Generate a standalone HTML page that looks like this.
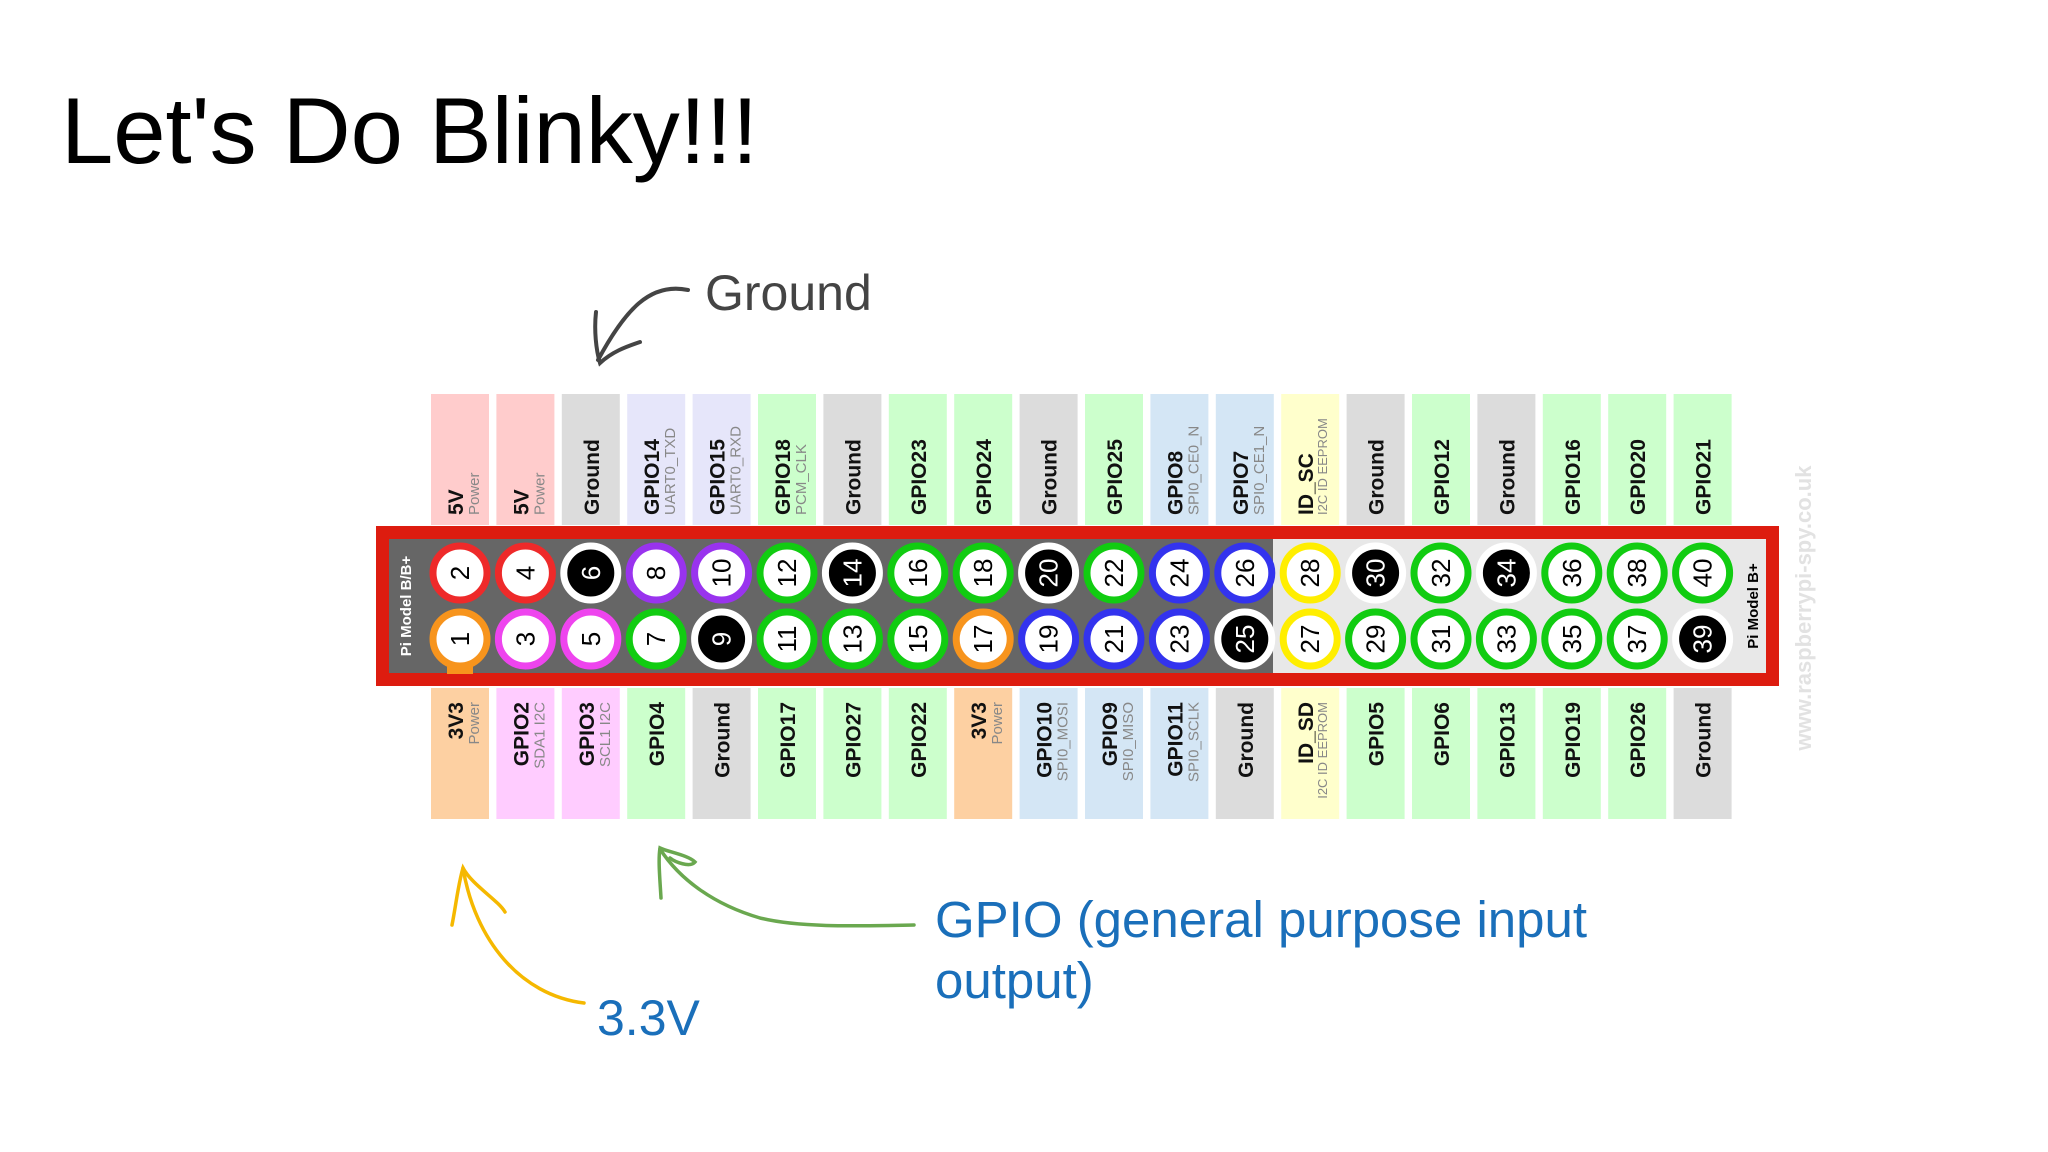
<!DOCTYPE html>
<html><head><meta charset="utf-8"><style>
html,body{margin:0;padding:0;background:#fff;}
svg{display:block;}
.n{font-family:"Liberation Sans",sans-serif;font-weight:bold;font-size:21px;fill:#111;}
.s{font-family:"Liberation Sans",sans-serif;font-size:15px;fill:#888;}
.p{font-family:"Liberation Sans",sans-serif;font-size:26px;text-anchor:middle;}
</style></head><body>
<svg width="2048" height="1152" viewBox="0 0 2048 1152" xmlns="http://www.w3.org/2000/svg">
<text x="61" y="163" font-family="Liberation Sans, sans-serif" font-size="94" fill="#000">Let's Do Blinky!!!</text>
<text x="705" y="310" font-family="Liberation Sans, sans-serif" font-size="50" fill="#444">Ground</text>
<path d="M688 290 C650 282 625 310 598 360" fill="none" stroke="#444" stroke-width="4" stroke-linecap="round"/>
<path d="M596 312 C594 330 596 350 600 363 C612 352 625 347 640 342" fill="none" stroke="#444" stroke-width="4" stroke-linecap="round"/>

<!-- top strips -->
<g transform="translate(460,0)"><rect x="-29" y="394" width="58" height="131" fill="#ffcccc"/><text transform="translate(3,515) rotate(-90)" class="n">5V</text><text transform="translate(19,515) rotate(-90)" class="s">Power</text></g>
<g transform="translate(525.4,0)"><rect x="-29" y="394" width="58" height="131" fill="#ffcccc"/><text transform="translate(3,515) rotate(-90)" class="n">5V</text><text transform="translate(19,515) rotate(-90)" class="s">Power</text></g>
<g transform="translate(590.8,0)"><rect x="-29" y="394" width="58" height="131" fill="#dcdcdc"/><text transform="translate(8,515) rotate(-90)" class="n">Ground</text></g>
<g transform="translate(656.2,0)"><rect x="-29" y="394" width="58" height="131" fill="#e6e6fa"/><text transform="translate(3,515) rotate(-90)" class="n">GPIO14</text><text transform="translate(19,515) rotate(-90)" class="s">UART0_TXD</text></g>
<g transform="translate(721.6,0)"><rect x="-29" y="394" width="58" height="131" fill="#e6e6fa"/><text transform="translate(3,515) rotate(-90)" class="n">GPIO15</text><text transform="translate(19,515) rotate(-90)" class="s">UART0_RXD</text></g>
<g transform="translate(787,0)"><rect x="-29" y="394" width="58" height="131" fill="#ccffcc"/><text transform="translate(3,515) rotate(-90)" class="n">GPIO18</text><text transform="translate(19,515) rotate(-90)" class="s">PCM_CLK</text></g>
<g transform="translate(852.4,0)"><rect x="-29" y="394" width="58" height="131" fill="#dcdcdc"/><text transform="translate(8,515) rotate(-90)" class="n">Ground</text></g>
<g transform="translate(917.8,0)"><rect x="-29" y="394" width="58" height="131" fill="#ccffcc"/><text transform="translate(8,515) rotate(-90)" class="n">GPIO23</text></g>
<g transform="translate(983.2,0)"><rect x="-29" y="394" width="58" height="131" fill="#ccffcc"/><text transform="translate(8,515) rotate(-90)" class="n">GPIO24</text></g>
<g transform="translate(1048.6,0)"><rect x="-29" y="394" width="58" height="131" fill="#dcdcdc"/><text transform="translate(8,515) rotate(-90)" class="n">Ground</text></g>
<g transform="translate(1114,0)"><rect x="-29" y="394" width="58" height="131" fill="#ccffcc"/><text transform="translate(8,515) rotate(-90)" class="n">GPIO25</text></g>
<g transform="translate(1179.4,0)"><rect x="-29" y="394" width="58" height="131" fill="#d4e6f5"/><text transform="translate(3,515) rotate(-90)" class="n">GPIO8</text><text transform="translate(19,515) rotate(-90)" class="s">SPI0_CE0_N</text></g>
<g transform="translate(1244.8,0)"><rect x="-29" y="394" width="58" height="131" fill="#d4e6f5"/><text transform="translate(3,515) rotate(-90)" class="n">GPIO7</text><text transform="translate(19,515) rotate(-90)" class="s">SPI0_CE1_N</text></g>
<g transform="translate(1310.2,0)"><rect x="-29" y="394" width="58" height="131" fill="#ffffcc"/><text transform="translate(3,515) rotate(-90)" class="n">ID_SC</text><text transform="translate(17,515) rotate(-90)" class="s" style="font-size:13px">I2C ID EEPROM</text></g>
<g transform="translate(1375.6,0)"><rect x="-29" y="394" width="58" height="131" fill="#dcdcdc"/><text transform="translate(8,515) rotate(-90)" class="n">Ground</text></g>
<g transform="translate(1441,0)"><rect x="-29" y="394" width="58" height="131" fill="#ccffcc"/><text transform="translate(8,515) rotate(-90)" class="n">GPIO12</text></g>
<g transform="translate(1506.4,0)"><rect x="-29" y="394" width="58" height="131" fill="#dcdcdc"/><text transform="translate(8,515) rotate(-90)" class="n">Ground</text></g>
<g transform="translate(1571.8,0)"><rect x="-29" y="394" width="58" height="131" fill="#ccffcc"/><text transform="translate(8,515) rotate(-90)" class="n">GPIO16</text></g>
<g transform="translate(1637.2,0)"><rect x="-29" y="394" width="58" height="131" fill="#ccffcc"/><text transform="translate(8,515) rotate(-90)" class="n">GPIO20</text></g>
<g transform="translate(1702.6,0)"><rect x="-29" y="394" width="58" height="131" fill="#ccffcc"/><text transform="translate(8,515) rotate(-90)" class="n">GPIO21</text></g>

<!-- bottom strips -->
<g transform="translate(460,0)"><rect x="-29" y="688" width="58" height="131" fill="#fdd0a2"/><text transform="translate(3,702) rotate(-90)" text-anchor="end" class="n">3V3</text><text transform="translate(19,702) rotate(-90)" text-anchor="end" class="s">Power</text></g>
<g transform="translate(525.4,0)"><rect x="-29" y="688" width="58" height="131" fill="#ffccff"/><text transform="translate(3,702) rotate(-90)" text-anchor="end" class="n">GPIO2</text><text transform="translate(19,702) rotate(-90)" text-anchor="end" class="s">SDA1 I2C</text></g>
<g transform="translate(590.8,0)"><rect x="-29" y="688" width="58" height="131" fill="#ffccff"/><text transform="translate(3,702) rotate(-90)" text-anchor="end" class="n">GPIO3</text><text transform="translate(19,702) rotate(-90)" text-anchor="end" class="s">SCL1 I2C</text></g>
<g transform="translate(656.2,0)"><rect x="-29" y="688" width="58" height="131" fill="#ccffcc"/><text transform="translate(8,702) rotate(-90)" text-anchor="end" class="n">GPIO4</text></g>
<g transform="translate(721.6,0)"><rect x="-29" y="688" width="58" height="131" fill="#dcdcdc"/><text transform="translate(8,702) rotate(-90)" text-anchor="end" class="n">Ground</text></g>
<g transform="translate(787,0)"><rect x="-29" y="688" width="58" height="131" fill="#ccffcc"/><text transform="translate(8,702) rotate(-90)" text-anchor="end" class="n">GPIO17</text></g>
<g transform="translate(852.4,0)"><rect x="-29" y="688" width="58" height="131" fill="#ccffcc"/><text transform="translate(8,702) rotate(-90)" text-anchor="end" class="n">GPIO27</text></g>
<g transform="translate(917.8,0)"><rect x="-29" y="688" width="58" height="131" fill="#ccffcc"/><text transform="translate(8,702) rotate(-90)" text-anchor="end" class="n">GPIO22</text></g>
<g transform="translate(983.2,0)"><rect x="-29" y="688" width="58" height="131" fill="#fdd0a2"/><text transform="translate(3,702) rotate(-90)" text-anchor="end" class="n">3V3</text><text transform="translate(19,702) rotate(-90)" text-anchor="end" class="s">Power</text></g>
<g transform="translate(1048.6,0)"><rect x="-29" y="688" width="58" height="131" fill="#d4e6f5"/><text transform="translate(3,702) rotate(-90)" text-anchor="end" class="n">GPIO10</text><text transform="translate(19,702) rotate(-90)" text-anchor="end" class="s">SPI0_MOSI</text></g>
<g transform="translate(1114,0)"><rect x="-29" y="688" width="58" height="131" fill="#d4e6f5"/><text transform="translate(3,702) rotate(-90)" text-anchor="end" class="n">GPIO9</text><text transform="translate(19,702) rotate(-90)" text-anchor="end" class="s">SPI0_MISO</text></g>
<g transform="translate(1179.4,0)"><rect x="-29" y="688" width="58" height="131" fill="#d4e6f5"/><text transform="translate(3,702) rotate(-90)" text-anchor="end" class="n">GPIO11</text><text transform="translate(19,702) rotate(-90)" text-anchor="end" class="s">SPI0_SCLK</text></g>
<g transform="translate(1244.8,0)"><rect x="-29" y="688" width="58" height="131" fill="#dcdcdc"/><text transform="translate(8,702) rotate(-90)" text-anchor="end" class="n">Ground</text></g>
<g transform="translate(1310.2,0)"><rect x="-29" y="688" width="58" height="131" fill="#ffffcc"/><text transform="translate(3,702) rotate(-90)" text-anchor="end" class="n">ID_SD</text><text transform="translate(17,702) rotate(-90)" text-anchor="end" class="s" style="font-size:13px">I2C ID EEPROM</text></g>
<g transform="translate(1375.6,0)"><rect x="-29" y="688" width="58" height="131" fill="#ccffcc"/><text transform="translate(8,702) rotate(-90)" text-anchor="end" class="n">GPIO5</text></g>
<g transform="translate(1441,0)"><rect x="-29" y="688" width="58" height="131" fill="#ccffcc"/><text transform="translate(8,702) rotate(-90)" text-anchor="end" class="n">GPIO6</text></g>
<g transform="translate(1506.4,0)"><rect x="-29" y="688" width="58" height="131" fill="#ccffcc"/><text transform="translate(8,702) rotate(-90)" text-anchor="end" class="n">GPIO13</text></g>
<g transform="translate(1571.8,0)"><rect x="-29" y="688" width="58" height="131" fill="#ccffcc"/><text transform="translate(8,702) rotate(-90)" text-anchor="end" class="n">GPIO19</text></g>
<g transform="translate(1637.2,0)"><rect x="-29" y="688" width="58" height="131" fill="#ccffcc"/><text transform="translate(8,702) rotate(-90)" text-anchor="end" class="n">GPIO26</text></g>
<g transform="translate(1702.6,0)"><rect x="-29" y="688" width="58" height="131" fill="#dcdcdc"/><text transform="translate(8,702) rotate(-90)" text-anchor="end" class="n">Ground</text></g>

<!-- header frame -->
<rect x="382.5" y="532.5" width="1390" height="147" fill="#e8e8e8" stroke="#dd1c0f" stroke-width="13"/>
<rect x="389" y="539" width="884" height="134" fill="#666"/>
<text transform="translate(411,606) rotate(-90)" text-anchor="middle" font-family="Liberation Sans, sans-serif" font-weight="bold" font-size="15" fill="#fff">Pi Model B/B+</text>
<text transform="translate(1758,606) rotate(-90)" text-anchor="middle" font-family="Liberation Sans, sans-serif" font-weight="bold" font-size="15" fill="#000">Pi Model B+</text>
<text transform="translate(1811,608) rotate(-90)" text-anchor="middle" font-family="Liberation Sans, sans-serif" font-weight="bold" font-size="22" fill="#e2e2e2">www.raspberrypi-spy.co.uk</text>
<rect x="447" y="650" width="26" height="24" fill="#f7941d"/>

<!-- pins -->
<g stroke-width="7">
<circle cx="460" cy="573" r="27" fill="#fff" stroke="#ee2a2a"/>
<circle cx="525.4" cy="573" r="27" fill="#fff" stroke="#ee2a2a"/>
<circle cx="590.8" cy="573" r="27" fill="#000" stroke="#fff"/>
<circle cx="656.2" cy="573" r="27" fill="#fff" stroke="#9933ee"/>
<circle cx="721.6" cy="573" r="27" fill="#fff" stroke="#9933ee"/>
<circle cx="787" cy="573" r="27" fill="#fff" stroke="#11cc11"/>
<circle cx="852.4" cy="573" r="27" fill="#000" stroke="#fff"/>
<circle cx="917.8" cy="573" r="27" fill="#fff" stroke="#11cc11"/>
<circle cx="983.2" cy="573" r="27" fill="#fff" stroke="#11cc11"/>
<circle cx="1048.6" cy="573" r="27" fill="#000" stroke="#fff"/>
<circle cx="1114" cy="573" r="27" fill="#fff" stroke="#11cc11"/>
<circle cx="1179.4" cy="573" r="27" fill="#fff" stroke="#3333ee"/>
<circle cx="1244.8" cy="573" r="27" fill="#fff" stroke="#3333ee"/>
<circle cx="1310.2" cy="573" r="27" fill="#fff" stroke="#ffee00"/>
<circle cx="1375.6" cy="573" r="27" fill="#000" stroke="#fff"/>
<circle cx="1441" cy="573" r="27" fill="#fff" stroke="#11cc11"/>
<circle cx="1506.4" cy="573" r="27" fill="#000" stroke="#fff"/>
<circle cx="1571.8" cy="573" r="27" fill="#fff" stroke="#11cc11"/>
<circle cx="1637.2" cy="573" r="27" fill="#fff" stroke="#11cc11"/>
<circle cx="1702.6" cy="573" r="27" fill="#fff" stroke="#11cc11"/>
<circle cx="460" cy="639" r="27" fill="#fff" stroke="#f7941d"/>
<circle cx="525.4" cy="639" r="27" fill="#fff" stroke="#ee44ee"/>
<circle cx="590.8" cy="639" r="27" fill="#fff" stroke="#ee44ee"/>
<circle cx="656.2" cy="639" r="27" fill="#fff" stroke="#11cc11"/>
<circle cx="721.6" cy="639" r="27" fill="#000" stroke="#fff"/>
<circle cx="787" cy="639" r="27" fill="#fff" stroke="#11cc11"/>
<circle cx="852.4" cy="639" r="27" fill="#fff" stroke="#11cc11"/>
<circle cx="917.8" cy="639" r="27" fill="#fff" stroke="#11cc11"/>
<circle cx="983.2" cy="639" r="27" fill="#fff" stroke="#f7941d"/>
<circle cx="1048.6" cy="639" r="27" fill="#fff" stroke="#3333ee"/>
<circle cx="1114" cy="639" r="27" fill="#fff" stroke="#3333ee"/>
<circle cx="1179.4" cy="639" r="27" fill="#fff" stroke="#3333ee"/>
<circle cx="1244.8" cy="639" r="27" fill="#000" stroke="#fff"/>
<circle cx="1310.2" cy="639" r="27" fill="#fff" stroke="#ffee00"/>
<circle cx="1375.6" cy="639" r="27" fill="#fff" stroke="#11cc11"/>
<circle cx="1441" cy="639" r="27" fill="#fff" stroke="#11cc11"/>
<circle cx="1506.4" cy="639" r="27" fill="#fff" stroke="#11cc11"/>
<circle cx="1571.8" cy="639" r="27" fill="#fff" stroke="#11cc11"/>
<circle cx="1637.2" cy="639" r="27" fill="#fff" stroke="#11cc11"/>
<circle cx="1702.6" cy="639" r="27" fill="#000" stroke="#fff"/>
</g>
<g>
<text class="p" transform="translate(469,573) rotate(-90)">2</text>
<text class="p" transform="translate(534.4,573) rotate(-90)">4</text>
<text class="p" transform="translate(599.8,573) rotate(-90)" fill="#fff">6</text>
<text class="p" transform="translate(665.2,573) rotate(-90)">8</text>
<text class="p" transform="translate(730.6,573) rotate(-90)">10</text>
<text class="p" transform="translate(796,573) rotate(-90)">12</text>
<text class="p" transform="translate(861.4,573) rotate(-90)" fill="#fff">14</text>
<text class="p" transform="translate(926.8,573) rotate(-90)">16</text>
<text class="p" transform="translate(992.2,573) rotate(-90)">18</text>
<text class="p" transform="translate(1057.6,573) rotate(-90)" fill="#fff">20</text>
<text class="p" transform="translate(1123,573) rotate(-90)">22</text>
<text class="p" transform="translate(1188.4,573) rotate(-90)">24</text>
<text class="p" transform="translate(1253.8,573) rotate(-90)">26</text>
<text class="p" transform="translate(1319.2,573) rotate(-90)">28</text>
<text class="p" transform="translate(1384.6,573) rotate(-90)" fill="#fff">30</text>
<text class="p" transform="translate(1450,573) rotate(-90)">32</text>
<text class="p" transform="translate(1515.4,573) rotate(-90)" fill="#fff">34</text>
<text class="p" transform="translate(1580.8,573) rotate(-90)">36</text>
<text class="p" transform="translate(1646.2,573) rotate(-90)">38</text>
<text class="p" transform="translate(1711.6,573) rotate(-90)">40</text>
<text class="p" transform="translate(469,639) rotate(-90)">1</text>
<text class="p" transform="translate(534.4,639) rotate(-90)">3</text>
<text class="p" transform="translate(599.8,639) rotate(-90)">5</text>
<text class="p" transform="translate(665.2,639) rotate(-90)">7</text>
<text class="p" transform="translate(730.6,639) rotate(-90)" fill="#fff">9</text>
<text class="p" transform="translate(796,639) rotate(-90)">11</text>
<text class="p" transform="translate(861.4,639) rotate(-90)">13</text>
<text class="p" transform="translate(926.8,639) rotate(-90)">15</text>
<text class="p" transform="translate(992.2,639) rotate(-90)">17</text>
<text class="p" transform="translate(1057.6,639) rotate(-90)">19</text>
<text class="p" transform="translate(1123,639) rotate(-90)">21</text>
<text class="p" transform="translate(1188.4,639) rotate(-90)">23</text>
<text class="p" transform="translate(1253.8,639) rotate(-90)" fill="#fff">25</text>
<text class="p" transform="translate(1319.2,639) rotate(-90)">27</text>
<text class="p" transform="translate(1384.6,639) rotate(-90)">29</text>
<text class="p" transform="translate(1450,639) rotate(-90)">31</text>
<text class="p" transform="translate(1515.4,639) rotate(-90)">33</text>
<text class="p" transform="translate(1580.8,639) rotate(-90)">35</text>
<text class="p" transform="translate(1646.2,639) rotate(-90)">37</text>
<text class="p" transform="translate(1711.6,639) rotate(-90)" fill="#fff">39</text>
</g>

<!-- yellow arrow -->
<path d="M584 1003 C520 995 475 940 463 868" fill="none" stroke="#f5b800" stroke-width="3.5" stroke-linecap="round"/>
<path d="M452 925 C456 905 458 885 463 868 C472 885 498 900 505 912" fill="none" stroke="#f5b800" stroke-width="3.5" stroke-linecap="round"/>
<text x="597" y="1035" font-family="Liberation Sans, sans-serif" font-size="50" fill="#1a6fba">3.3V</text>

<!-- green arrow -->
<path d="M914 925 C860 926 800 928 760 918 C715 905 680 880 660 849" fill="none" stroke="#6aa84f" stroke-width="3.5" stroke-linecap="round"/>
<path d="M661 898 C660 880 658 860 660 848 C668 852 688 855 695 862 C690 868 675 862 670 858" fill="none" stroke="#6aa84f" stroke-width="3.5" stroke-linecap="round"/>
<text x="935" y="937" font-family="Liberation Sans, sans-serif" font-size="51" fill="#1a6fba">GPIO (general purpose input</text>
<text x="935" y="998" font-family="Liberation Sans, sans-serif" font-size="51" fill="#1a6fba">output)</text>
</svg>
</body></html>
